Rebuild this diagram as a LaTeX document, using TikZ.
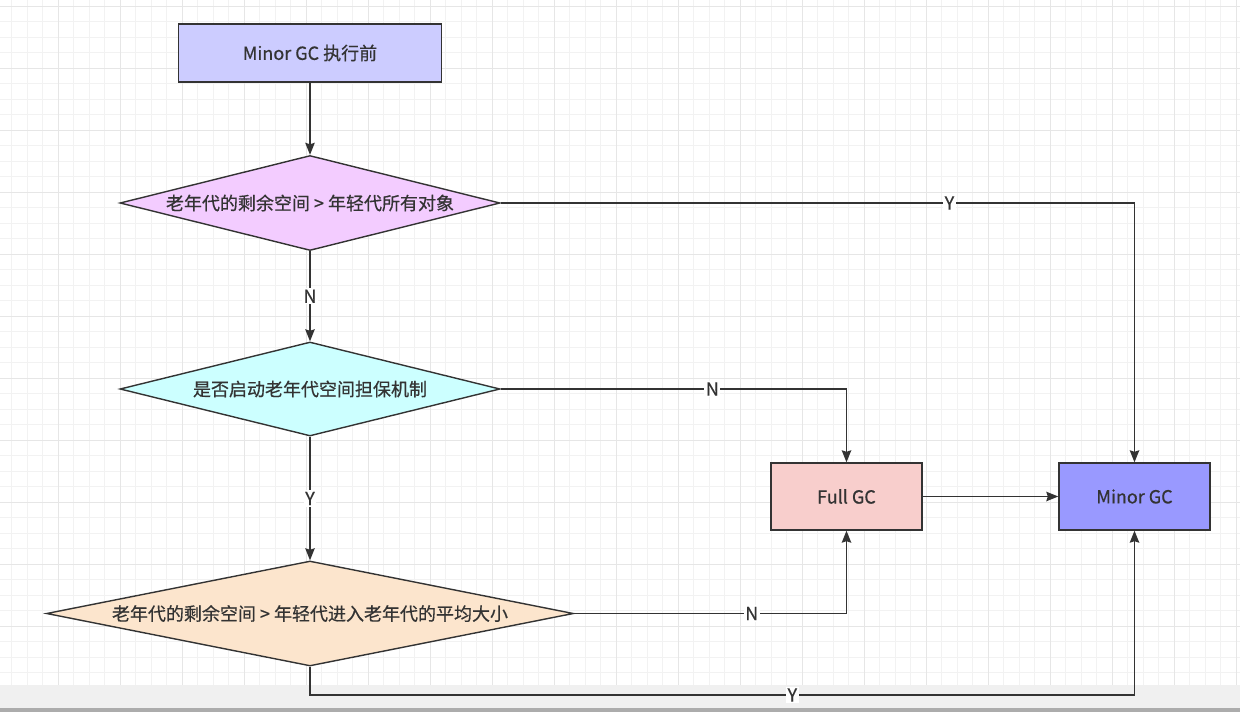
\documentclass[tikz,border=0pt]{standalone}
\usepackage{fontspec}
\setmainfont{Noto Sans CJK SC}[FakeBold=0.6]
\usetikzlibrary{shapes.geometric,arrows.meta}
\definecolor{ink}{HTML}{333333}
\definecolor{gridminor}{HTML}{F2F2F2}
\definecolor{gridmajor}{HTML}{E6E6E6}
\definecolor{bandc}{HTML}{F0F0F0}
\definecolor{edgec}{HTML}{ACACAC}
\definecolor{cstart}{HTML}{CCCCFF}
\definecolor{cdone}{HTML}{F3CCFF}
\definecolor{cdtwo}{HTML}{CCFFFF}
\definecolor{cdthree}{HTML}{FCE5CD}
\definecolor{cfull}{HTML}{F8CECC}
\definecolor{cminor}{HTML}{9999FF}
\tikzset{
  txt/.style={font=\fontsize{18}{21}\selectfont, text=ink},
  boxnode/.style={txt, draw=ink, line width=1.4pt, rectangle, inner sep=0pt},
  dia/.style={txt, draw=ink, line width=1.4pt, diamond, inner sep=0pt},
  conn/.style={draw=ink, line width=1.3pt, -{Stealth[length=12pt,width=9.5pt,inset=1.5pt]}},
  lbl/.style={txt, fill=white, inner sep=1.5pt},
  gminor/.style={draw=gridminor, line width=0.9pt},
  gmajor/.style={draw=gridmajor, line width=1pt}
}
\begin{document}
\begin{tikzpicture}[x=1pt,y=-1pt]
\useasboundingbox (0,0) rectangle (1240,712);
\fill[white] (0,0) rectangle (1240,685);
\foreach \i in {0,...,79} { \draw[gminor] (11.5+15.5*\i,0) -- (11.5+15.5*\i,685); }
\foreach \j in {0,...,43} { \draw[gminor] (0,6+15.5*\j) -- (1240,6+15.5*\j); }
\foreach \i in {0,...,19} { \draw[gmajor] (58+62*\i,0) -- (58+62*\i,685); }
\foreach \j in {0,...,10} { \draw[gmajor] (0,6+62*\j) -- (1240,6+62*\j); }
\fill[bandc] (0,685) rectangle (1240,708);
\fill[edgec] (0,708) rectangle (1240,712);

\node[boxnode, fill=cstart, minimum width=263pt, minimum height=58pt] (b1) at (310,53) {Minor GC 执行前};
\node[dia, fill=cdone, minimum width=380pt, minimum height=95pt, aspect=4] (d1) at (310,203) {老年代的剩余空间 > 年轻代所有对象};
\node[dia, fill=cdtwo, minimum width=380pt, minimum height=94pt, aspect=4] (d2) at (310,389) {是否启动老年代空间担保机制};
\node[dia, fill=cdthree, minimum width=527pt, minimum height=105pt, aspect=5] (d3) at (310,613.5) {老年代的剩余空间 > 年轻代进入老年代的平均大小};
\node[boxnode, fill=cfull, minimum width=151pt, minimum height=67pt] (fg) at (846.5,496.5) {Full GC};
\node[boxnode, fill=cminor, minimum width=151pt, minimum height=67pt] (mg) at (1134.5,496.5) {Minor GC};

\draw[conn] (b1.south) -- (d1.north);
\draw[conn] (d1.south) -- node[lbl] (l1) {N} (d2.north);
\draw[conn] (d2.south) -- node[lbl] (l2) {Y} (d3.north);
\draw[conn] (d1.east) -| node[lbl, pos=0.354] (l3) {Y} (mg.north);
\draw[conn] (d2.east) -| node[lbl, pos=0.306] (l4) {N} (fg.north);
\draw[conn] (d3.east) -| node[lbl, pos=0.326] (l5) {N} (fg.south);
\coordinate (bt) at (310,695);
\draw[conn] (d3.south) -- (bt) -| node[lbl, pos=0.2925] (l6) {Y} (mg.south);
\draw[conn] (fg.east) -- (mg.west);
\end{tikzpicture}
\end{document}
